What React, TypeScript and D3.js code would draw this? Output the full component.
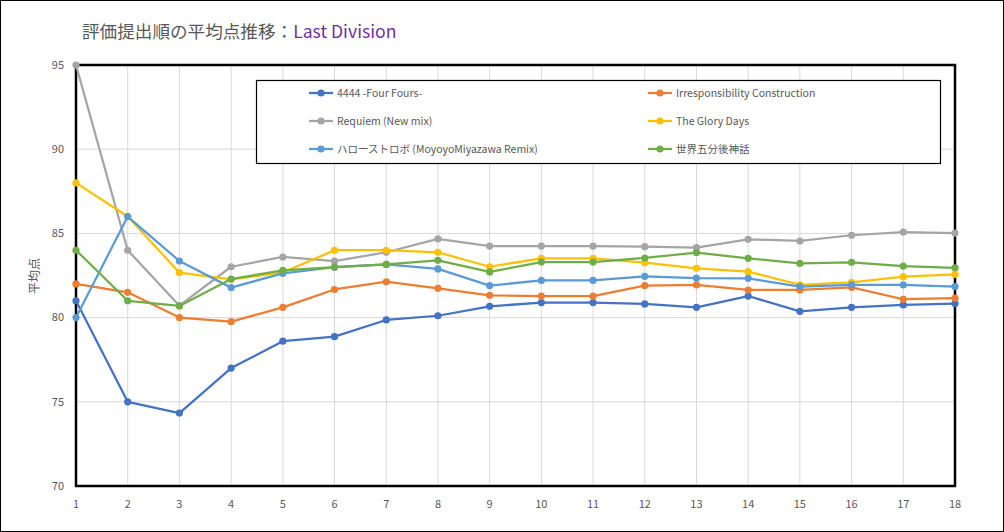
import React from 'react';
import * as d3 from 'd3';

const rounds = d3.range(1, 19);
const seriesNames = [
  '4444 -Four Fours-',
  'Irresponsibility Construction',
  'Requiem (New mix)',
  'The Glory Days',
  'ハローストロボ (MoyoyoMiyazawa Remix)',
  '世界五分後神話',
];
const seriesColors = ['#4472C4', '#ED7D31', '#A5A5A5', '#FFC000', '#5B9BD5', '#70AD47'];

const fourFours = [81.0, 75.0, 74.33, 77.0, 78.6, 78.87, 79.86, 80.11, 80.67, 80.89, 80.89, 80.81, 80.61, 81.28, 80.37, 80.61, 80.75, 80.83];
const irresponsibility = [82.0, 81.5, 80.0, 79.76, 80.61, 81.67, 82.13, 81.74, 81.32, 81.28, 81.28, 81.9, 81.94, 81.64, 81.64, 81.8, 81.09, 81.16];
const requiem = [95.0, 84.0, 80.71, 83.02, 83.6, 83.35, 83.88, 84.67, 84.25, 84.25, 84.25, 84.21, 84.15, 84.65, 84.55, 84.89, 85.08, 85.02];
const gloryDays = [88.0, 86.0, 82.67, 82.27, 82.68, 84.0, 84.0, 83.88, 83.02, 83.52, 83.52, 83.26, 82.93, 82.73, 81.95, 82.09, 82.43, 82.57];
const helloStrobo = [80.0, 86.0, 83.36, 81.78, 82.63, 82.99, 83.16, 82.89, 81.9, 82.21, 82.21, 82.45, 82.35, 82.33, 81.84, 81.94, 81.94, 81.84];
const sekaiGofun = [84.0, 81.0, 80.69, 82.29, 82.81, 83.0, 83.16, 83.4, 82.71, 83.3, 83.3, 83.54, 83.86, 83.52, 83.22, 83.28, 83.06, 82.96];

const seriesValues = [fourFours, irresponsibility, requiem, gloryDays, helloStrobo, sekaiGofun];
const yTicks = [70, 75, 80, 85, 90, 95];

const W = 1004;
const H = 532;
const plot = { left: 76, right: 955, top: 65, bottom: 486 };
const font = "'Noto Sans CJK JP', 'Noto Sans', sans-serif";
const textColor = '#595959';

export default function App() {
  const x = d3.scaleLinear().domain([1, 18]).range([plot.left, plot.right]);
  const y = d3.scaleLinear().domain([70, 95]).range([plot.bottom, plot.top]);
  const line = d3.line<number>()
    .x((_, i) => x(rounds[i]))
    .y(d => y(d));

  // legend layout: two columns, three rows
  const legendCols = [309, 648];
  const legendRows = [93, 121, 149];

  return (
    <div style={{ position: 'fixed', left: 0, top: 0 }}>
      <svg width={W} height={H} style={{ display: 'block', fontFamily: font }}>
        <rect x={0.5} y={0.5} width={W - 1} height={H - 1} fill="#fff" stroke="#000" strokeWidth={1} />

        <text x={82} y={38} fontSize={17.6} fill={textColor}>
          評価提出順の平均点推移：<tspan fill="#7030A0">Last Division</tspan>
        </text>

        {/* gridlines */}
        {rounds.map(r => (
          <line key={'vx' + r} x1={x(r)} x2={x(r)} y1={plot.top} y2={plot.bottom} stroke="#D9D9D9" strokeWidth={1} />
        ))}
        {yTicks.map(t => (
          <line key={'hy' + t} x1={plot.left} x2={plot.right} y1={y(t)} y2={y(t)} stroke="#D9D9D9" strokeWidth={1} />
        ))}

        <rect x={plot.left} y={plot.top} width={plot.right - plot.left} height={plot.bottom - plot.top}
          fill="none" stroke="#000" strokeWidth={2.5} />

        {/* axis labels */}
        {yTicks.map(t => (
          <text key={'yt' + t} x={64} y={y(t)} dy="0.35em" textAnchor="end" fontSize={11} fill={textColor}>{t}</text>
        ))}
        {rounds.map(r => (
          <text key={'xt' + r} x={x(r)} y={508} textAnchor="middle" fontSize={11} fill={textColor}>{r}</text>
        ))}
        <text transform={`translate(39,276) rotate(-90)`} textAnchor="middle" fontSize={12} fill={textColor}>平均点</text>

        {/* series */}
        {seriesValues.map((vals, si) => (
          <g key={'s' + si}>
            <path d={line(vals) || ''} fill="none" stroke={seriesColors[si]} strokeWidth={2.25} strokeLinejoin="round" />
            {vals.map((v, i) => (
              <circle key={i} cx={x(rounds[i])} cy={y(v)} r={3.6} fill={seriesColors[si]} />
            ))}
          </g>
        ))}

        {/* legend */}
        <rect x={256.5} y={80.5} width={684} height={83} fill="#fff" stroke="#000" strokeWidth={1.2} />
        {seriesNames.map((name, i) => {
          const lx = legendCols[i % 2];
          const ly = legendRows[Math.floor(i / 2)];
          return (
            <g key={'lg' + i}>
              <line x1={lx} x2={lx + 24} y1={ly} y2={ly} stroke={seriesColors[i]} strokeWidth={2.25} />
              <circle cx={lx + 12} cy={ly} r={3.6} fill={seriesColors[i]} />
              <text x={lx + 28} y={ly} dy="0.35em" fontSize={10.5} fill={textColor}>{name}</text>
            </g>
          );
        })}
      </svg>
    </div>
  );
}
